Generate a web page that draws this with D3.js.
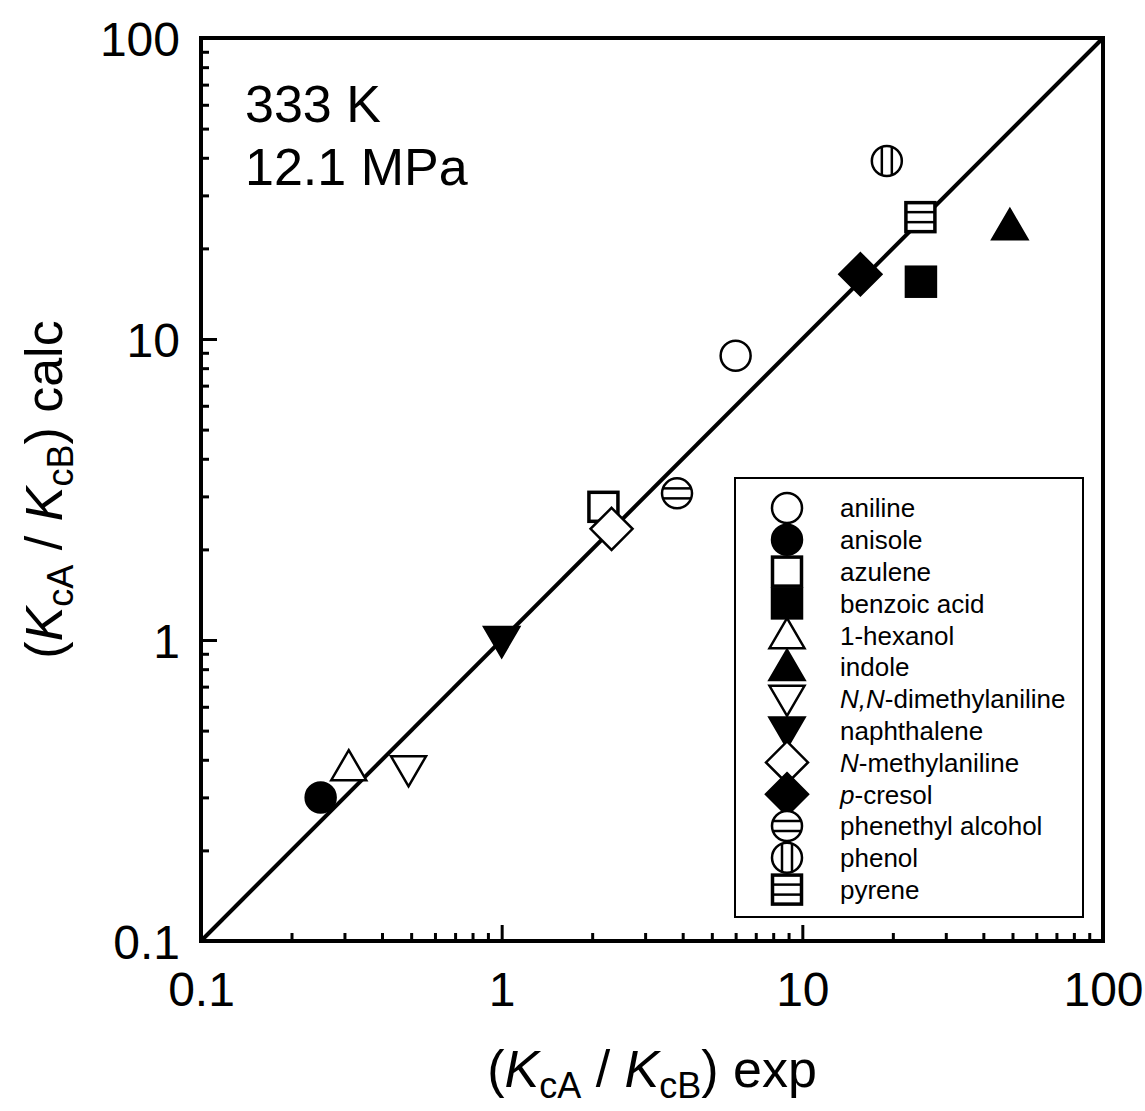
<!DOCTYPE html>
<html>
<head>
<meta charset="utf-8">
<script src="https://cdn.jsdelivr.net/npm/d3@7"></script>
<style>
  body { margin: 0; background: #fff; }
  svg { display: block; font-family: "Liberation Sans", Arial, sans-serif; }
</style>
</head>
<body>
<svg id="chart" width="1145" height="1111"></svg>
<script>
//Chart data
const compounds = ["aniline", "anisole", "azulene", "benzoic acid", "1-hexanol", "indole",
    "N,N-dimethylaniline", "naphthalene", "N-methylaniline", "p-cresol",
    "phenethyl alcohol", "phenol", "pyrene"];
const italicPrefix = ["", "", "", "", "", "", "N,N", "", "N", "p", "", "", ""];
const expValues  = [6.0, 0.25, 2.18, 24.8, 0.31, 49, 0.49, 1.0, 2.32, 15.6, 3.83, 19.1, 24.7];
const calcValues = [8.8, 0.30, 2.77, 15.5, 0.378, 23.7, 0.372, 1.0, 2.34, 16.4, 3.07, 39, 25.4];
const majorTicks = [0.1, 1, 10, 100];
const majorTickLabels = ["0.1", "1", "10", "100"];
const minorTicks = [0.2, 0.3, 0.4, 0.5, 0.6, 0.7, 0.8, 0.9, 2, 3, 4, 5, 6, 7, 8, 9, 20, 30, 40, 50, 60, 70, 80, 90];
const conditions = ["333 K", "12.1 MPa"];

//Marker style per compound (shape, filled)
const markerStyles = [
    ["circle", false], ["circle", true], ["square", false], ["square", true],
    ["triUp", false], ["triUp", true], ["triDown", false], ["triDown", true],
    ["diamond", false], ["diamond", true], ["circleH", false], ["circleV", false], ["squareH", false]
];

const svg = d3.select("#chart");
const plotLeft = 201, plotRight = 1103, plotTop = 38, plotBottom = 941;

const x = d3.scaleLog().domain([0.1, 100]).range([plotLeft, plotRight]);
const y = d3.scaleLog().domain([0.1, 100]).range([plotBottom, plotTop]);

//Draw one marker centred at (cx, cy)
function drawMarker(g, cx, cy, shape, filled) {
    const fill = filled ? "#000" : "#fff";
    const m = g.append("g").attr("transform", `translate(${cx},${cy})`);
    if (shape === "circle" || shape === "circleH" || shape === "circleV") {
        m.append("circle").attr("r", 15).attr("fill", fill).attr("stroke", "#000").attr("stroke-width", 2.5);
        if (shape === "circleH") {
            [-5, 5].forEach(d => m.append("line").attr("x1", -14).attr("x2", 14).attr("y1", d).attr("y2", d)
                .attr("stroke", "#000").attr("stroke-width", 2.5));
        }
        if (shape === "circleV") {
            [-5, 5].forEach(d => m.append("line").attr("y1", -14).attr("y2", 14).attr("x1", d).attr("x2", d)
                .attr("stroke", "#000").attr("stroke-width", 2.5));
        }
    } else if (shape === "square" || shape === "squareH") {
        m.append("rect").attr("x", -14.5).attr("y", -14.5).attr("width", 29).attr("height", 29)
            .attr("fill", fill).attr("stroke", "#000").attr("stroke-width", 3.5);
        if (shape === "squareH") {
            [-5, 5].forEach(d => m.append("line").attr("x1", -14).attr("x2", 14).attr("y1", d).attr("y2", d)
                .attr("stroke", "#000").attr("stroke-width", 2.5));
        }
    } else if (shape === "triUp") {
        m.append("path").attr("d", "M0,-17 L17.5,13 L-17.5,13 Z")
            .attr("fill", fill).attr("stroke", "#000").attr("stroke-width", 2.5);
    } else if (shape === "triDown") {
        m.append("path").attr("d", "M0,17 L17.5,-13 L-17.5,-13 Z")
            .attr("fill", fill).attr("stroke", "#000").attr("stroke-width", 2.5);
    } else if (shape === "diamond") {
        m.append("path").attr("d", "M0,-21 L21,0 L0,21 L-21,0 Z")
            .attr("fill", fill).attr("stroke", "#000").attr("stroke-width", 2.5);
    }
}

//Minor ticks (inside)
svg.append("g")
    .attr("transform", `translate(0,${plotBottom})`)
    .call(d3.axisBottom(x).tickValues(minorTicks).tickSize(-8).tickFormat(""))
    .call(g => g.select(".domain").remove());
svg.append("g")
    .attr("transform", `translate(${plotLeft},0)`)
    .call(d3.axisLeft(y).tickValues(minorTicks).tickSize(-8).tickFormat(""))
    .call(g => g.select(".domain").remove());

//Major ticks with labels
svg.append("g")
    .attr("class", "x-major")
    .attr("transform", `translate(0,${plotBottom})`)
    .call(d3.axisBottom(x).tickValues(majorTicks).tickSize(-16).tickPadding(31)
        .tickFormat((d, i) => majorTickLabels[i]))
    .call(g => g.select(".domain").remove());
svg.append("g")
    .attr("class", "y-major")
    .attr("transform", `translate(${plotLeft},0)`)
    .call(d3.axisLeft(y).tickValues(majorTicks).tickSize(-16).tickPadding(21)
        .tickFormat((d, i) => majorTickLabels[i]))
    .call(g => g.select(".domain").remove());

svg.selectAll(".tick line").attr("stroke", "#000").attr("stroke-width", 3);
svg.selectAll(".tick text").attr("fill", "#000").style("font-size", "48px")
    .style("font-family", "'Liberation Sans', Arial, sans-serif");
svg.selectAll(".x-major .tick text").attr("dy", "0.71em");
svg.selectAll(".y-major .tick text").attr("dy", "0.36em");

//Plot frame
svg.append("rect")
    .attr("x", plotLeft).attr("y", plotTop)
    .attr("width", plotRight - plotLeft).attr("height", plotBottom - plotTop)
    .attr("fill", "none").attr("stroke", "#000").attr("stroke-width", 4);

//Parity line
svg.append("line")
    .attr("x1", x(0.1)).attr("y1", y(0.1))
    .attr("x2", x(100)).attr("y2", y(100))
    .attr("stroke", "#000").attr("stroke-width", 4);

//Data markers
const points = svg.append("g").attr("class", "points");
compounds.forEach((name, i) => {
    drawMarker(points, x(expValues[i]), y(calcValues[i]), markerStyles[i][0], markerStyles[i][1]);
});

//Conditions text
svg.append("text").attr("x", 245).attr("y", 122).style("font-size", "52px").text(conditions[0]);
svg.append("text").attr("x", 245).attr("y", 185).style("font-size", "52px").text(conditions[1]);

//Legend
const legend = svg.append("g").attr("id", "legend");
legend.append("rect")
    .attr("x", 735).attr("y", 478).attr("width", 348).attr("height", 439)
    .attr("fill", "#fff").attr("stroke", "#000").attr("stroke-width", 2);
compounds.forEach((name, i) => {
    const ly = 508 + i * 31.8;
    drawMarker(legend, 787, ly, markerStyles[i][0], markerStyles[i][1]);
    const t = legend.append("text").attr("x", 840).attr("y", ly).attr("dy", "0.36em")
        .style("font-size", "26px");
    const pre = italicPrefix[i];
    if (pre) {
        t.append("tspan").style("font-style", "italic").text(pre);
        t.append("tspan").text(name.slice(pre.length));
    } else {
        t.text(name);
    }
});

//Axis titles
function axisTitle(g, suffix) {
    g.append("tspan").text("(");
    g.append("tspan").style("font-style", "italic").text("K");
    g.append("tspan").attr("dy", 11).style("font-size", "36px").text("cA");
    g.append("tspan").attr("dy", -11).text(" / ");
    g.append("tspan").style("font-style", "italic").text("K");
    g.append("tspan").attr("dy", 11).style("font-size", "36px").text("cB");
    g.append("tspan").attr("dy", -11).text(") " + suffix);
}
const xTitle = svg.append("text")
    .attr("x", (plotLeft + plotRight) / 2).attr("y", 1087)
    .attr("text-anchor", "middle").style("font-size", "52px");
axisTitle(xTitle, "exp");

const yTitle = svg.append("text")
    .attr("transform", `translate(62,${(plotTop + plotBottom) / 2}) rotate(-90)`)
    .attr("text-anchor", "middle").style("font-size", "52px");
axisTitle(yTitle, "calc");
</script>
</body>
</html>
